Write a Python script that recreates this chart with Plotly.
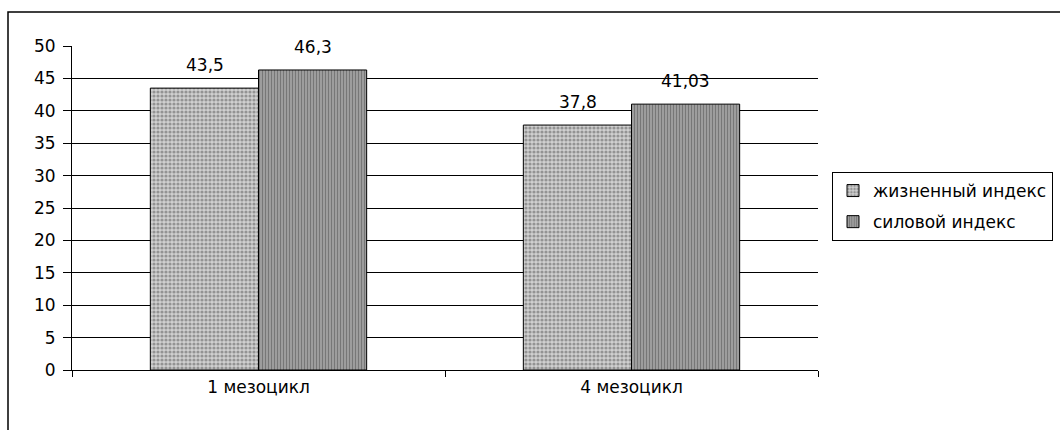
import plotly.graph_objects as go

categories = ["1 мезоцикл", "4 мезоцикл"]
series_names = ["жизненный индекс", "силовой индекс"]
life_index = [43.5, 37.8]
power_index = [46.3, 41.03]
life_labels = ["43,5", "37,8"]
power_labels = ["46,3", "41,03"]
y_ticks = [0, 5, 10, 15, 20, 25, 30, 35, 40, 45, 50]

FONT = "DejaVu Sans, Verdana, sans-serif"
FS = 17

fig = go.Figure()
fig.add_trace(go.Bar(
    x=categories, y=life_index, name=series_names[0], legendgroup="a",
    marker=dict(color="#c8c8c8", line=dict(color="#000", width=1),
                pattern=dict(shape=".", fgcolor="#555", bgcolor="#d0d0d0", size=4, solidity=0.5)),
))
fig.add_trace(go.Bar(
    x=categories, y=power_index, name=series_names[1], legendgroup="b",
    marker=dict(color="#888", line=dict(color="#000", width=1),
                pattern=dict(shape="|", fgcolor="#4a4a4a", bgcolor="#a4a4a4", size=3, solidity=0.45)),
))

L, R, T, B = 72, 242, 46, 60
W, H = 1060 - L - R, 430 - T - B
BAR_HALF = 54  # px offset of each grouped bar centre

annotations = []
for cat, v, lab in zip(categories, life_index, life_labels):
    annotations.append(dict(x=cat, y=v, text=lab, showarrow=False, xanchor="center", yanchor="bottom",
                            xshift=-BAR_HALF, yshift=11, font=dict(size=FS, color="#000")))
for cat, v, lab in zip(categories, power_index, power_labels):
    annotations.append(dict(x=cat, y=v, text=lab, showarrow=False, xanchor="center", yanchor="bottom",
                            xshift=BAR_HALF, yshift=11, font=dict(size=FS, color="#000")))

fig.update_layout(
    width=1060, height=430,
    margin=dict(l=L, r=R, t=T, b=B, autoexpand=False),
    paper_bgcolor="white", plot_bgcolor="white",
    font=dict(family=FONT, size=FS, color="#000"),
    barmode="group", bargap=0.42, bargroupgap=0,
    showlegend=True,
    legend=dict(x=(832 - L) / W, y=(370 - 172) / H, xanchor="left", yanchor="top",
                bordercolor="#000", borderwidth=1, bgcolor="white",
                font=dict(size=FS), tracegroupgap=6, itemwidth=30),
    xaxis=dict(type="category", showline=True, linecolor="#000", linewidth=1,
               ticks="outside", tickson="boundaries", ticklen=6, tickcolor="#000",
               showgrid=False, ticklabelstandoff=2, automargin=False),
    yaxis=dict(range=[0, 50], tickvals=y_ticks, showline=True, linecolor="#000", linewidth=1,
               ticks="outside", ticklen=8, tickcolor="#000", automargin=False, ticklabelstandoff=4,
               showgrid=True, gridcolor="#000", gridwidth=1, zeroline=False),
    annotations=annotations,
    shapes=[dict(type="rect", xref="paper", yref="paper",
                 x0=(8 - L) / W, x1=(1080 - L) / W, y0=(370 - 450) / H, y1=(370 - 12) / H,
                 line=dict(color="#000", width=1.5), fillcolor="rgba(0,0,0,0)", layer="below")],
)

fig.write_html("out.html", config={"displayModeBar": False},
               post_script="document.body.style.margin='0';")
